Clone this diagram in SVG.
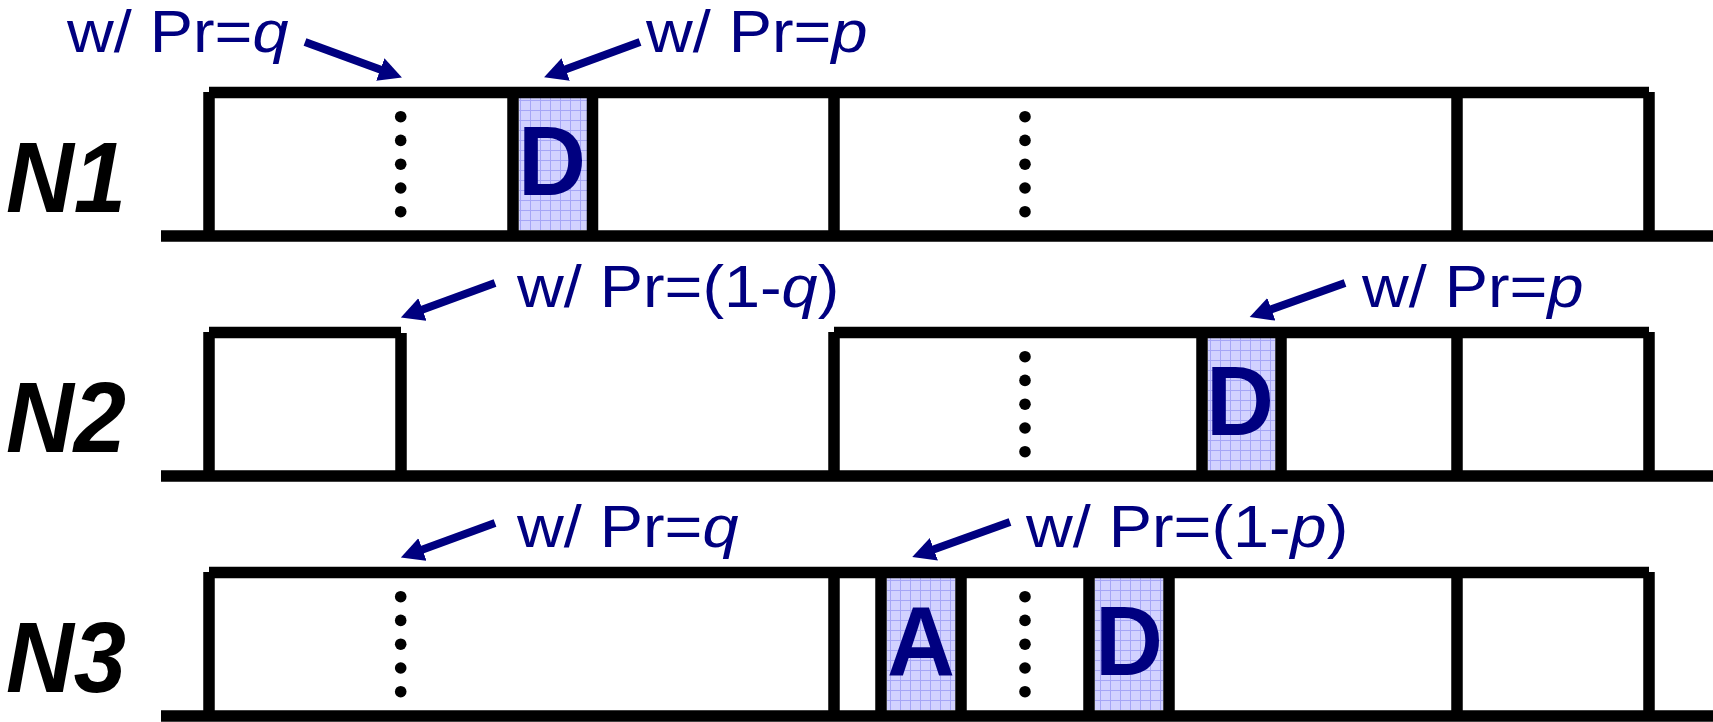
<svg xmlns="http://www.w3.org/2000/svg" width="1713" height="722" viewBox="0 0 1713 722">
<style>
.ln{stroke:#000;stroke-width:11.5;fill:none}
.lbl{font-family:"Liberation Sans",Arial,sans-serif;font-weight:bold;font-style:italic;font-size:101px;fill:#000}
.pr{font-family:"Liberation Sans",Arial,sans-serif;font-size:60px;fill:#000080}
.it{font-style:italic}
.let{font-family:"Liberation Sans",Arial,sans-serif;font-weight:bold;font-size:98px;fill:#000080;text-anchor:middle}
.cell{fill:url(#grid)}
.dot{fill:#000}
.arr{stroke:#000080;stroke-width:8;fill:none;marker-end:url(#ah)}
</style>
<defs>
<pattern id="grid" patternUnits="userSpaceOnUse" width="10" height="10">
<rect width="10" height="10" fill="#d2d2ff"/>
<path d="M0,0.5H10M0.5,0V10" stroke="#a6a6f6" stroke-width="1"/>
</pattern>
<marker id="ah" markerUnits="userSpaceOnUse" markerWidth="24" markerHeight="26" refX="2" refY="12" orient="auto">
<path d="M0,0 L23,12 L0,24 z" fill="#000080"/>
</marker>
<g id="dots">
<circle class="dot" cx="0" cy="116.7" r="5.8"/>
<circle class="dot" cx="0" cy="140.4" r="5.8"/>
<circle class="dot" cx="0" cy="164.2" r="5.8"/>
<circle class="dot" cx="0" cy="188" r="5.8"/>
<circle class="dot" cx="0" cy="211.7" r="5.8"/>
</g>
</defs>
<rect width="1713" height="722" fill="#fff"/>

<g id="row-N1">
<text class="lbl" transform="translate(6,212) scale(0.93,1)">N1</text>
<rect class="cell" x="519" y="98" width="68" height="132"/>
<text class="let" transform="translate(552,195) scale(0.96,1)">D</text>
<path class="ln" d="M161,236H1713M209,92.5H1649M209,92V236M513,92.5V236M592.5,92.5V236M834,92.5V236M1457,92.5V236M1649,92V236"/>
<use href="#dots" x="400.7" y="0"/>
<use href="#dots" x="1025" y="0"/>
</g>

<g id="row-N2">
<text class="lbl" transform="translate(6,452) scale(0.93,1)">N2</text>
<rect class="cell" x="1208" y="338" width="67" height="132"/>
<text class="let" transform="translate(1240,435) scale(0.96,1)">D</text>
<path class="ln" d="M161,476H1713M209,332.5H401M209,332V476M401,333V476M834,332.5H1649M834,332V476M1202,332.5V476M1281,332.5V476M1457,332.5V476M1649,332V476"/>
<use href="#dots" x="1025" y="240"/>
</g>

<g id="row-N3">
<text class="lbl" transform="translate(6,692) scale(0.93,1)">N3</text>
<rect class="cell" x="887" y="578" width="68" height="132"/>
<rect class="cell" x="1095" y="578" width="68" height="132"/>
<text class="let" transform="translate(921,675) scale(0.96,1)">A</text>
<text class="let" transform="translate(1129,675) scale(0.96,1)">D</text>
<path class="ln" d="M161,716H1713M209,572.5H1649M209,572V716M834,572.5V716M881,572.5V716M961,572.5V716M1089,572.5V716M1169,572.5V716M1457,572.5V716M1649,572V716"/>
<use href="#dots" x="400.7" y="480"/>
<use href="#dots" x="1025" y="480"/>
</g>

<g id="labels">
<text class="pr" transform="translate(67,52) scale(1.08,1)">w/ Pr=<tspan class="it">q</tspan></text>
<text class="pr" transform="translate(646,52) scale(1.08,1)">w/ Pr=<tspan class="it">p</tspan></text>
<text class="pr" transform="translate(517,307) scale(1.08,1)">w/ Pr=(1-<tspan class="it">q</tspan>)</text>
<text class="pr" transform="translate(1362,307) scale(1.08,1)">w/ Pr=<tspan class="it">p</tspan></text>
<text class="pr" transform="translate(517,547) scale(1.08,1)">w/ Pr=<tspan class="it">q</tspan></text>
<text class="pr" transform="translate(1026,547) scale(1.08,1)">w/ Pr=(1-<tspan class="it">p</tspan>)</text>
</g>

<g id="connectors">
<line class="arr" x1="305" y1="42" x2="382.2" y2="70.2"/>
<line class="arr" x1="640" y1="42" x2="563.8" y2="70.1"/>
<line class="arr" x1="495" y1="283" x2="420.6" y2="310.2"/>
<line class="arr" x1="1345" y1="283" x2="1269.5" y2="310"/>
<line class="arr" x1="495" y1="523" x2="420.6" y2="550.2"/>
<line class="arr" x1="1010" y1="522" x2="932" y2="550"/>
</g>
</svg>
